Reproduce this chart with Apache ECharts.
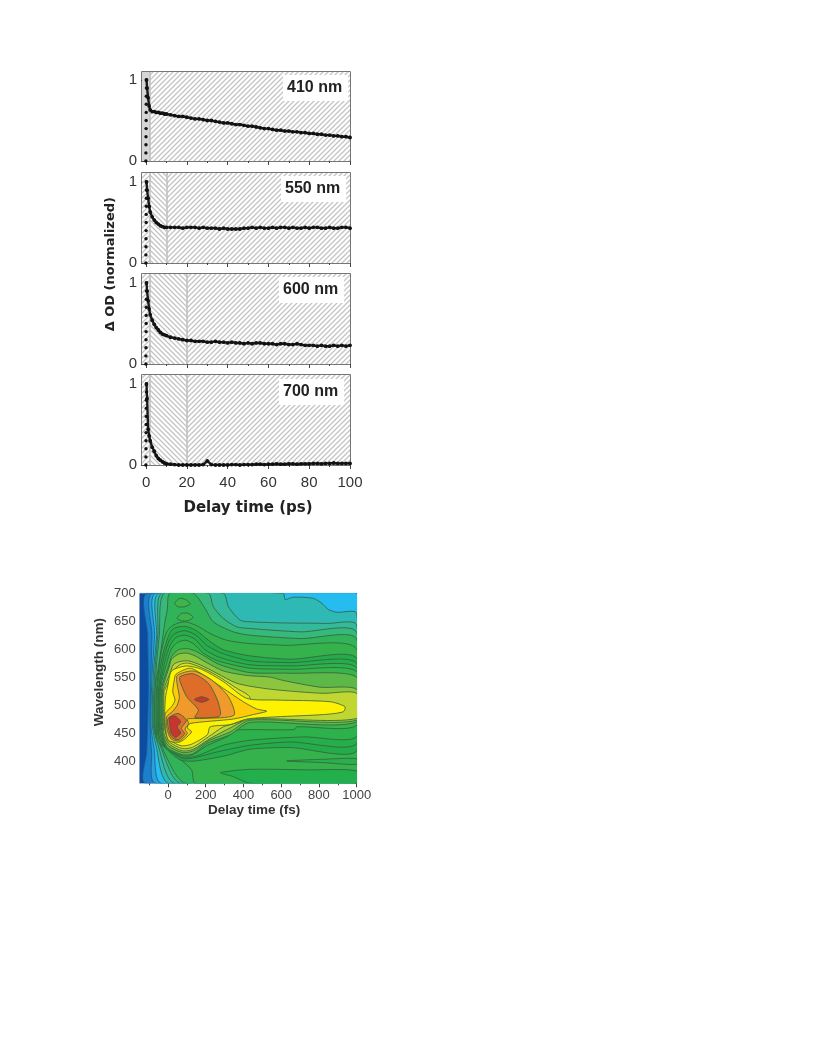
<!DOCTYPE html>
<html><head><meta charset="utf-8">
<style>html,body{margin:0;padding:0;background:#fff}#c{width:816px;height:1056px;filter:blur(0.5px)}</style>
<script src="https://cdn.jsdelivr.net/npm/echarts@6/dist/echarts.min.js"></script>
</head><body><div id="c"></div>
<script>
// ---------- decay panels ----------
const panelNames = ['410 nm','550 nm','600 nm','700 nm'];
const riseTimes  = [-0.1,-0.08,-0.05,-0.03,0,0.03,0.06,0.09,0.12,0.16,0.2];
const riseValues = [0,0.1,0.2,0.3,0.4,0.5,0.6,0.7,0.8,0.9,1];
const decayTimes = [0.2,0.5,1,1.5,2,3,4,5,6,7,8,9,10,12,14,16,18,
  20,22,24,26,28,30,32,34,36,38,40,42,44,46,48,50,52,54,56,58,
  60,62,64,66,68,70,72,74,76,78,80,82,84,86,88,90,92,94,96,98,100];
const decay410 = [1,.9,.78,.68,.63,.61,.61,.6,.6,.59,.59,.58,.58,.57,.56,.55,.55,
  .54,.53,.52,.52,.51,.5,.5,.49,.48,.47,
  .47,.46,.45,.45,.44,.43,.43,.42,.41,.4,
  .4,.39,.38,.38,.37,.37,.36,.36,.35,.35,
  .34,.34,.33,.33,.32,.32,.31,.31,.3,.3,.29];
const decay550 = [1,.9,.8,.7,.63,.57,.53,.5,.48,.46,.45,.44,.44,.44,.44,.44,.43,
  .44,.44,.44,.43,.44,.43,.43,.43,.42,.43,
  .42,.42,.42,.42,.43,.43,.44,.43,.44,.43,
  .43,.44,.43,.44,.44,.43,.44,.43,.43,.44,
  .43,.44,.44,.43,.43,.44,.43,.43,.44,.44,.43];
const decay600 = [1,.9,.78,.68,.61,.54,.49,.45,.42,.39,.37,.36,.35,.33,.32,.31,.3,
  .29,.29,.28,.28,.28,.27,.27,.28,.27,.27,
  .26,.27,.26,.26,.25,.26,.25,.26,.26,.25,
  .25,.25,.24,.25,.25,.24,.24,.25,.24,.23,
  .23,.23,.22,.23,.22,.22,.23,.22,.23,.22,.23];
const decay700 = [1,.82,.44,.36,.3,.22,.17,.115,.08,.06,.04,.025,.015,.01,.005,0,0,
  0,0,0,0,.005,.05,.005,0,0,0,
  0,.005,.005,0,.005,.005,.005,.01,.01,.005,
  .01,.01,.015,.01,.01,.015,.015,.01,.015,.015,
  .015,.02,.02,.015,.02,.02,.025,.02,.02,.02,.02];
const panelDecays = [decay410,decay550,decay600,decay700];
const panelSplits = [null,10,20,20];   // grey boundary between hatch directions (ps)
const earlySplit = 2;
const psMajor = [0,20,40,60,80,100];
const psMinor = [10,30,50,70,90];
const odTicks = [0,1];
const odMinor = [0.5];

// ---------- contour map: closed level outlines as [delay fs, wavelength nm] ----------
const fsLabels = [0,200,400,600,800,1000];
const fsMinor = [-100,100,300,500,700,900];
const nmLabels = [400,450,500,550,600,650,700];
const lvBase = [[-150,700],[1000,700],[1000,360],[-150,360]];
const lv1 = [[-110,700],[-108,625],[-104,536],[-108,464],[-113,416],[-120,360],[1000,360],[1000,700]];
const lv2 = [[-81,700],[-85,625],[-92,536],[-95,464],[-87,416],[-67,360],[1000,360],[1000,700]];
const lv3 = [[-64,700],[-71,625],[-85,551],[-90,464],[-74,422],[-35,360],[1000,360],[1000,700]];
const lv4 = [[-49,700],[-60,625],[-78,554],[-83,464],[-64,428],[4,360],[1000,360],[1000,664],[894,666],[850,671],[815,682],[770,691],[664,693],[620,689],[611,700]];
const lv5 = [[-35,700],[-53,628],[-71,554],[-78,464],[-55,431],[35,360],[1000,360],[1000,643],[841,646],[611,647],[435,649],[382,652],[320,676],[293,700]];
const lv6 = [[-21,700],[-46,625],[-64,556],[-72,458],[-46,431],[67,360],[1000,360],[1000,630],[700,631],[435,637],[364,640],[293,655],[240,676],[214,700]];
const lv7 = [[9,700],[-4,670],[-18,646],[-35,604],[-53,563],[-67,536],[-67,458],[-42,431],[94,360],[1000,360],[1000,618],[700,619],[435,625],[346,631],[240,649],[196,673],[134,700]];
const lv8 = [[-62,524],[-53,554],[-35,596],[-7,631],[28,643],[88,649],[152,642],[223,628],[311,616],[435,610],[611,607],[1000,600],[1000,360],[145,360],[125,384],[64,403],[2,419],[-55,437],[-62,464]];
const lv9 = [[-57,524],[-49,551],[-28,590],[4,625],[28,637],[90,641],[152,633],[214,616],[293,599],[435,588],[647,582],[1000,584],[1000,418],[647,424],[435,421],[300,409],[145,400],[71,401],[18,413],[-49,439],[-57,464]];
const lv10 = [[-51,524],[-42,548],[-21,587],[7,616],[37,628],[90,633],[148,625],[205,607],[284,593],[435,579],[647,576],[1000,575],[1000,431],[647,434],[435,428],[258,416],[143,406],[78,404],[11,418],[-44,440],[-51,464]];
const lv11 = [[-46,524],[-37,545],[-14,581],[11,607],[42,621],[90,625],[143,618],[196,599],[276,585],[435,572],[647,570],[1000,567],[1000,444],[717,443],[435,437],[293,428],[152,409],[78,406],[-11,424],[-39,443],[-46,464]];
const lv12 = [[-41,524],[-32,544],[-7,575],[16,599],[49,612],[95,616],[138,609],[187,593],[267,579],[435,566],[647,564],[1000,560],[1000,464],[682,461],[668,456],[435,456],[329,454],[325,446],[205,427],[125,410],[78,409],[-7,422],[-32,443],[-41,464]];
const lv13 = [[-35,524],[-25,542],[5,572],[19,587],[55,599],[99,601],[143,597],[196,587],[276,572],[435,558],[647,557],[1000,550],[1000,470],[435,469],[329,447],[205,431],[134,413],[78,411],[-4,424],[-28,445],[-35,464]];
const lv14 = [[-30,524],[-21,539],[7,569],[19,582],[55,591],[99,593],[143,588],[205,576],[293,561],[417,553],[541,550],[611,544],[806,532],[1000,528],[1000,473],[435,473],[329,452],[214,436],[134,418],[78,415],[2,427],[-25,446],[-30,464]];
const lv15 = [[-25,524],[-14,536],[11,557],[28,572],[64,578],[108,579],[170,572],[258,557],[364,539],[505,530],[647,525],[823,521],[1000,521],[1000,476],[435,475],[329,459],[223,440],[134,421],[78,418],[7,430],[-21,449],[-25,464]];
const lv16 = [[-21,524],[-9,533],[16,551],[32,563],[67,573],[108,575],[170,568],[258,553],[364,530],[435,513],[399,474],[293,461],[214,443],[134,425],[78,422],[7,434],[-14,452],[-21,464]];
const lv17 = [[-14,512],[0,536],[19,561],[99,570],[178,564],[293,542],[417,512],[576,509],[859,506],[938,497],[929,488],[823,483],[576,479],[417,475],[329,465],[223,461],[209,447],[125,430],[72,427],[11,437],[-11,452],[-18,464]];
const lv18 = [[42,555],[117,566],[187,554],[293,530],[399,506],[470,493],[523,489],[452,483],[346,475],[117,467],[102,459],[125,452],[64,434],[2,437],[-14,464],[-14,485],[19,497],[37,509],[25,524],[32,542]];
const lv19 = [[49,553],[134,561],[231,545],[320,515],[350,482],[187,476],[102,475],[110,467],[90,457],[102,449],[60,436],[14,440],[-7,461],[-7,479],[25,489],[49,500],[60,515],[49,536]];
const lv20a = [[64,551],[134,556],[214,539],[262,509],[279,485],[267,479],[143,478],[161,491],[99,515],[64,542]];
const lv20b = [[0,476],[53,485],[97,473],[71,458],[88,449],[53,438],[18,443],[0,461]];
const lv21a = [[140,510],[178,515],[217,510],[178,505]];
const lv21b = [[9,478],[39,480],[67,470],[49,461],[67,450],[39,442],[18,449],[9,464]];
const isle1 = [[35,682],[62,691],[97,688],[118,681],[88,676],[53,676]];
const isle2 = [[49,655],[71,664],[106,664],[133,657],[106,651],[71,651]];
const wedge = [[629,400],[823,403],[1000,404],[1000,394],[823,397]];
const bottomIsle = [[279,379],[435,385],[735,384],[1000,382],[1000,360],[435,360],[346,372]];
const contourOutlines = [lvBase,lv1,lv2,lv3,lv4,lv5,lv6,lv7,isle1,isle2,lv8,wedge,bottomIsle,lv9,lv10,lv11,lv12,lv13,lv14,lv15,lv16,lv17,lv18,lv19,lv20a,lv20b,lv21a,lv21b];
const contourColors = ['#0C4DA2','#1B7FCC','#2A9FD8','#25BCF0','#2FB9B5','#34B99A','#38B97C','#31B35A','#3DB54A','#3DB54A','#36B24C','#2AAF4C','#22AF4C','#24AC4B','#27AE4B','#2DB14B','#38B54A','#5CB947','#8CC63F','#BFD730','#E3E11E','#FFF200','#FFCB08','#F09A2C','#DE6D2A','#DE6D2A','#C9342F','#C9342F'];

function hatch(dir){
  const s=5,c=document.createElement('canvas');c.width=c.height=s;
  const g=c.getContext('2d');g.fillStyle='#fff';g.fillRect(0,0,s,s);
  g.strokeStyle='#c4c4c4';g.lineWidth=1.3;g.beginPath();
  if(dir>0){g.moveTo(-1,s+1);g.lineTo(s+1,-1);g.moveTo(-1,1);g.lineTo(1,-1);g.moveTo(s-1,s+1);g.lineTo(s+1,s-1);}
  else{g.moveTo(-1,-1);g.lineTo(s+1,s+1);g.moveTo(s-1,-1);g.lineTo(s+1,1);g.moveTo(-1,s-1);g.lineTo(1,s+1);}
  g.stroke();return {image:c,repeat:'repeat'};
}
const up=hatch(1),down=hatch(-1);
const FONT='"Liberation Sans",Arial,sans-serif';
const tickLine={lineStyle:{color:'#444',width:1}};

const panelTops=[72,173,274,375], panelHeights=[89,90,90,90];
const grids=[],xAxes=[],yAxes=[],series=[],titles=[];
panelNames.forEach((name,i)=>{
  const last=i===3;
  grids.push({left:142,width:208,top:panelTops[i],height:panelHeights[i],show:true,backgroundColor:'#fff',borderColor:'#4a4a4a',borderWidth:1.5});
  xAxes.push({gridIndex:i,position:'bottom',type:'value',min:-2,max:100,splitLine:{show:false},
    axisLine:{show:false},axisTick:{show:true,length:4,inside:false,customValues:psMajor,...tickLine},
    axisLabel:{show:last,customValues:psMajor,fontFamily:FONT,fontSize:15,color:'#333',margin:10,showMinLabel:true,showMaxLabel:true},
    name:last?'Delay time (ps)':'',nameLocation:'middle',nameGap:36,
    nameTextStyle:{fontFamily:'"DejaVu Sans",sans-serif',fontWeight:'bold',fontSize:15,color:'#222',padding:[0,0,0,4]}});
  yAxes.push({gridIndex:i,position:'left',type:'value',min:0,max:panelHeights[i]/81,splitLine:{show:false},
    axisLine:{show:false},axisTick:{show:true,length:5,customValues:odTicks,...tickLine},
    axisLabel:{customValues:odTicks,fontFamily:FONT,fontSize:15,color:'#333',margin:5}});
  const areas=[],lines=[earlySplit];
  const split=panelSplits[i];
  if(split===null){
    areas.push([{xAxis:-2,itemStyle:{color:'#d6d6d6'}},{xAxis:earlySplit}]);
    areas.push([{xAxis:earlySplit,itemStyle:{color:up}},{xAxis:100}]);
  }else{
    areas.push([{xAxis:-2,itemStyle:{color:up}},{xAxis:earlySplit}]);
    areas.push([{xAxis:earlySplit,itemStyle:{color:down}},{xAxis:split}]);
    areas.push([{xAxis:split,itemStyle:{color:up}},{xAxis:100}]);
    lines.push(split);
  }
  const decayPts=decayTimes.map((t,k)=>[t,panelDecays[i][k]]);
  series.push({type:'line',xAxisIndex:i,yAxisIndex:i,data:decayPts,showSymbol:true,symbol:'circle',symbolSize:3.8,
    itemStyle:{color:'#111'},lineStyle:{color:'#1a1a1a',width:2.4},clip:true,silent:true,animation:false,z:5,
    markArea:{silent:true,label:{show:false},data:areas},
    markLine:{silent:true,symbol:'none',label:{show:false},lineStyle:{color:'#bdbdbd',width:1.5,type:'solid'},data:lines.map(v=>({xAxis:v}))}});
  series.push({type:'line',xAxisIndex:i,yAxisIndex:i,data:riseTimes.map((t,k)=>[t,riseValues[k]]),showSymbol:true,symbol:'circle',symbolSize:3.4,
    itemStyle:{color:'#111'},lineStyle:{width:0},clip:false,silent:true,animation:false,z:5});
  titles.push({text:name,left:[283,281,279,279][i],top:panelTops[i]+[3,3,3,4][i],backgroundColor:'#fff',padding:[5,6,5,4],
    textStyle:{fontFamily:FONT,fontWeight:'bold',fontSize:16,color:'#222'}});
});
// minor ticks of the panels
panelNames.forEach((_,i)=>{
  xAxes.push({gridIndex:i,position:'bottom',type:'value',min:-2,max:100,splitLine:{show:false},axisLine:{show:false},
    axisLabel:{show:false},axisTick:{show:true,length:2,customValues:psMinor,...tickLine}});
  yAxes.push({gridIndex:i,position:'left',type:'value',min:0,max:panelHeights[i]/81,splitLine:{show:false},axisLine:{show:false},
    axisLabel:{show:false},axisTick:{show:true,length:2.5,customValues:odMinor,...tickLine}});
});
// contour map
const cg=grids.length;
grids.push({left:139.7,width:217,top:593.3,height:190,show:true,borderColor:'#bbb',borderWidth:1,backgroundColor:'#0C4DA2'});
const cx=xAxes.length, cy=yAxes.length;
xAxes.push({gridIndex:cg,position:'bottom',type:'value',min:-150,max:1000,splitLine:{show:false},axisLine:{show:false},
  axisTick:{show:true,length:4,customValues:fsLabels,...tickLine},
  axisLabel:{customValues:fsLabels,formatter:v=>String(v),fontFamily:FONT,fontSize:13,color:'#444',margin:6,showMaxLabel:true},
  name:'Delay time (fs)',nameLocation:'middle',nameGap:20,
  nameTextStyle:{fontFamily:FONT,fontWeight:'bold',fontSize:13.5,color:'#333',padding:[0,0,0,12]}});
xAxes.push({gridIndex:cg,position:'bottom',type:'value',min:-150,max:1000,splitLine:{show:false},axisLine:{show:false},
  axisLabel:{show:false},axisTick:{show:true,length:2,customValues:fsMinor,...tickLine}});
yAxes.push({gridIndex:cg,position:'left',type:'value',min:360,max:700,splitLine:{show:false},axisLine:{show:false},
  axisTick:{show:true,length:4,customValues:nmLabels,...tickLine},
  axisLabel:{customValues:nmLabels,fontFamily:FONT,fontSize:13,color:'#444',margin:4,showMaxLabel:true}});
series.push({type:'custom',coordinateSystem:'cartesian2d',xAxisIndex:cx,yAxisIndex:cy,clip:true,silent:true,animation:false,z:2,
  data:contourOutlines.map((o,i)=>[o[0][0],o[0][1],i]),encode:{x:0,y:1},
  renderItem(params,api){
    const i=api.value(2);
    return {type:'polygon',shape:{points:contourOutlines[i].map(p=>api.coord(p)),smooth:i===0?0:0.25},
      style:{fill:contourColors[i],stroke:i<4?'#1a5a8a':'#33603f',lineWidth:i===0?0:0.8}};
  }});

const chart=echarts.init(document.getElementById('c'),null,{renderer:'canvas',width:816,height:1056});
chart.setOption({animation:false,backgroundColor:'#fff',title:titles,grid:grids,xAxis:xAxes,yAxis:yAxes,series,
  graphic:[
   {type:'text',left:104,top:197,rotation:Math.PI/2,silent:true,
    style:{text:'Δ OD (normalized)',font:'bold 13px "DejaVu Sans",sans-serif',fill:'#222'}},
   {type:'text',left:92,top:618,rotation:Math.PI/2,silent:true,
    style:{text:'Wavelength (nm)',font:'bold 13.5px "Liberation Sans",Arial,sans-serif',fill:'#333'}}
  ]});
</script></body></html>
